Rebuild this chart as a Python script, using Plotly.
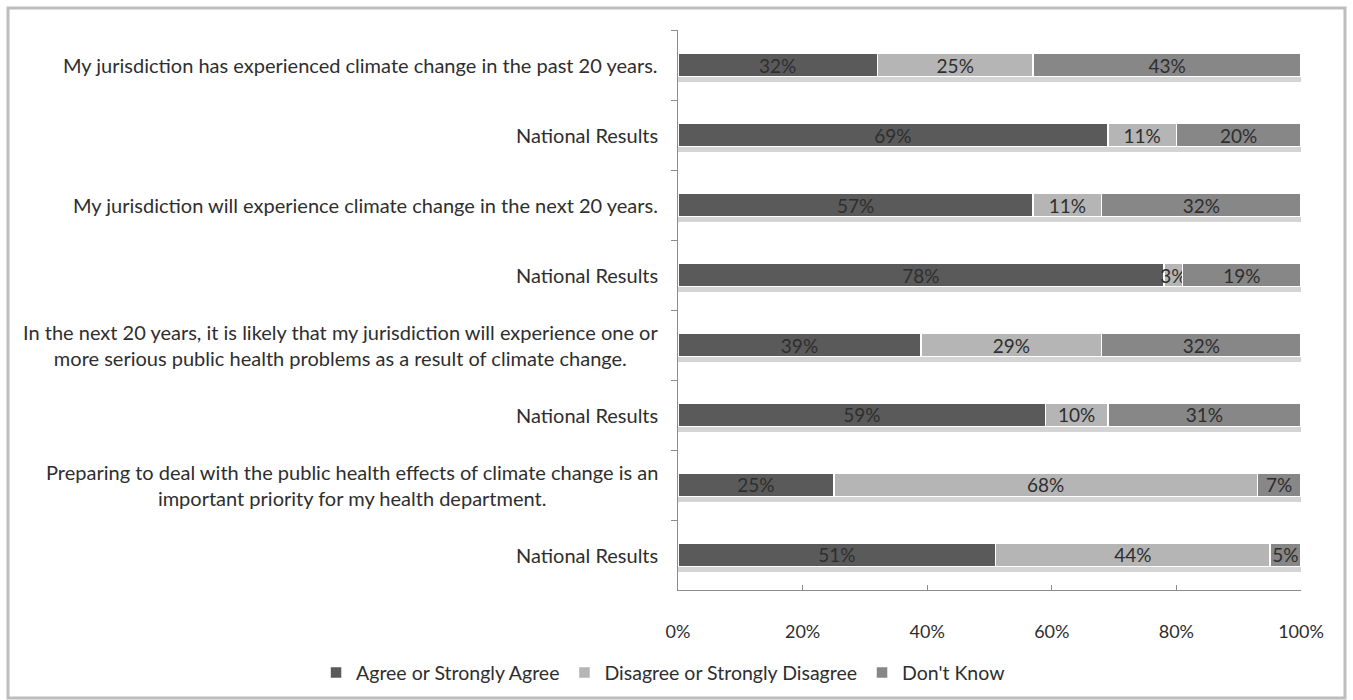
import plotly.graph_objects as go

ids = ["q1", "n1", "q2", "n2", "q3", "n3", "q4", "n4"]
labels = [
    "My jurisdiction has experienced climate change in the past 20 years.",
    "National Results",
    "My jurisdiction will experience climate change in the next 20 years.",
    "National Results",
    "In the next 20 years, it is likely that my jurisdiction will experience one or<br>more serious public health problems as a result of climate change.",
    "National Results",
    "Preparing to deal with the public health effects of climate change is an<br>important priority for my health department.",
    "National Results",
]
agree = [32, 69, 57, 78, 39, 59, 25, 51]
disagree = [25, 11, 11, 3, 29, 10, 68, 44]
dont_know = [43, 20, 32, 19, 32, 31, 7, 5]

series = [
    ("Agree or Strongly Agree", agree, "#5a5a5a"),
    ("Disagree or Strongly Disagree", disagree, "#b5b5b5"),
    ("Don't Know", dont_know, "#878787"),
]

FONT = "Lato, 'Open Sans', sans-serif"
TXT = "#2e2e2e"

fig = go.Figure()

# subtle drop shadow under each bar (separate axis so it does not stack)
totals = [a + b + c for a, b, c in zip(agree, disagree, dont_know)]
fig.add_trace(go.Bar(
    y=ids, x=totals, orientation="h", xaxis="x2", yaxis="y",
    offset=0.17, width=0.07, marker=dict(color="#d4d4d4", line=dict(width=0)),
    showlegend=False, hoverinfo="skip",
))

for name, vals, color in series:
    fig.add_trace(go.Bar(
        y=ids, x=vals, name=name, orientation="h",
        marker=dict(color=color, line=dict(color="white", width=1.5)),
        text=[f"{v}%" for v in vals], textposition="inside",
        insidetextanchor="middle", textangle=0,
        insidetextfont=dict(color=TXT, size=19, family=FONT),
        constraintext="none",
    ))

for cid, lab in zip(ids, labels):
    fig.add_annotation(
        x=0, xref="paper", y=cid, yref="y", text=lab, showarrow=False,
        xanchor="right", yanchor="middle", align="center", xshift=-18,
        font=dict(size=20, color=TXT, family=FONT),
    )

fig.add_shape(type="rect", xref="paper", yref="paper",
              x0=-1.0754, x1=1.0706, y0=-0.193, y1=1.0393,
              line=dict(color="#bdbdbd", width=3), fillcolor="rgba(0,0,0,0)")

fig.update_layout(
    width=1353, height=700, barmode="stack", bargap=0.655,
    margin=dict(l=678, r=52, t=30, b=110, autoexpand=False),
    plot_bgcolor="white", paper_bgcolor="white",
    font=dict(family=FONT, size=18, color=TXT),
    showlegend=True,
    legend=dict(orientation="h", xref="paper", yref="paper",
                x=-0.581, xanchor="left", y=-0.148, yanchor="middle",
                font=dict(size=19.5, family=FONT, color=TXT),
                traceorder="normal", itemwidth=30),
    xaxis=dict(range=[0, 100], tickvals=[0, 20, 40, 60, 80, 100],
               ticktext=["0%", "20%", "40%", "60%", "80%", "100%"],
               showgrid=False, zeroline=False, showline=True,
               linecolor="#8c8c8c", linewidth=1, ticks="inside",
               ticklen=5, tickcolor="#8c8c8c", ticklabelstandoff=25,
               tickfont=dict(size=18, family=FONT, color=TXT)),
    xaxis2=dict(range=[0, 100], overlaying="x", visible=False),
    yaxis=dict(categoryorder="array", categoryarray=ids, autorange="reversed",
               showticklabels=False, showgrid=False, zeroline=False,
               showline=True, linecolor="#8c8c8c", linewidth=1,
               ticks="outside", ticklen=6, tickcolor="#8c8c8c",
               tickson="boundaries"),
)

fig.write_html("out.html")
